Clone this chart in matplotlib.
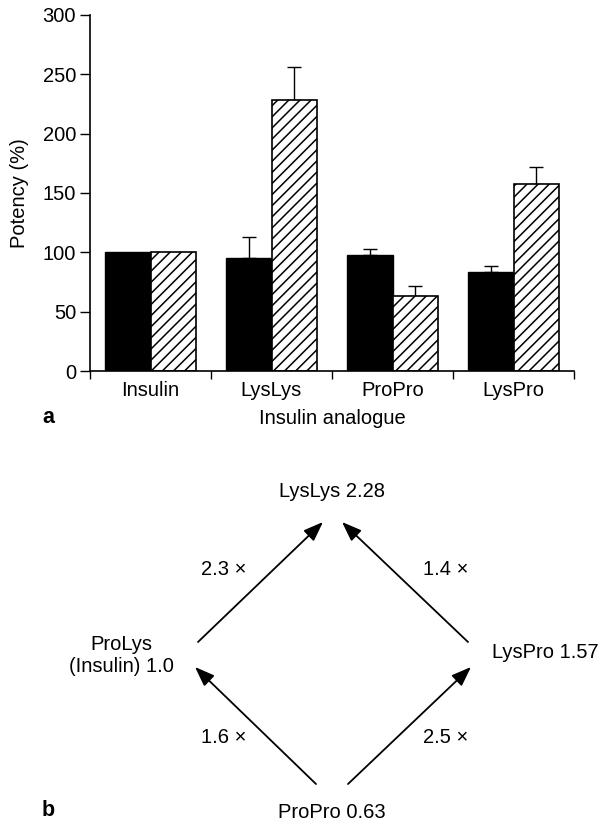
import matplotlib
matplotlib.use("Agg")
import matplotlib.pyplot as plt
import numpy as np

plt.rcParams['font.family'] = ['Liberation Sans', 'DejaVu Sans']
plt.rcParams['hatch.linewidth'] = 1.1

categories = ["Insulin", "LysLys", "ProPro", "LysPro"]
solid_vals = [100, 95, 97.5, 83.5]
solid_err = [0, 18, 5, 5]
hatch_vals = [100, 228.5, 63.5, 157.5]
hatch_err = [0, 28, 8, 14]
yticks = [0, 50, 100, 150, 200, 250, 300]

# panel b content
nodes = {
    "top": "LysLys 2.28",
    "left": "ProLys\n(Insulin) 1.0",
    "right": "LysPro 1.57",
    "bottom": "ProPro 0.63",
}
factors = ["2.3 \u00d7", "1.4 \u00d7", "1.6 \u00d7", "2.5 \u00d7"]

W, H = 607, 824
FS = 14.5
fig = plt.figure(figsize=(W / 100, H / 100), dpi=100)

# ---------- panel a ----------
ax_l, ax_r, ax_b, ax_t = 90, 574, 371, 15
ax = fig.add_axes([ax_l / W, 1 - ax_b / H, (ax_r - ax_l) / W, (ax_b - ax_t) / H])
x = np.arange(len(categories))
bw = 0.372
ax.bar(x - bw / 2, solid_vals, bw, color="black", edgecolor="black", linewidth=1.0, zorder=2)
ax.bar(x + bw / 2, hatch_vals, bw, color="white", edgecolor="black", linewidth=1.2,
       hatch="///", zorder=2)

def errs(xs, vals, e):
    idx = [i for i, v in enumerate(e) if v > 0]
    ax.errorbar(xs[idx], np.array(vals)[idx],
                yerr=[np.zeros(len(idx)), np.array(e)[idx]],
                fmt="none", ecolor="black", elinewidth=1.0, capsize=4.7, capthick=1.0, zorder=1)

errs(x - bw / 2, solid_vals, solid_err)
errs(x + bw / 2, hatch_vals, hatch_err)

ax.set_xlim(-0.5, len(categories) - 0.5)
ax.set_ylim(0, 300)
ax.set_yticks(yticks)
ax.set_xticks(x)
ax.set_xticklabels(categories)
ax.set_xticks(np.arange(-0.5, len(categories)), minor=True)
ax.tick_params(axis="x", which="major", length=0, pad=7, labelsize=FS)
ax.tick_params(axis="x", which="minor", length=6, width=1.0, direction="out")
ax.tick_params(axis="y", length=7, width=1.0, direction="out", labelsize=FS, pad=3)
for s in ["top", "right"]:
    ax.spines[s].set_visible(False)
for s in ["left", "bottom"]:
    ax.spines[s].set_linewidth(1.2)
ax.set_ylabel("Potency (%)", fontsize=FS, va="center")
ax.yaxis.set_label_coords((20 - ax_l) / (ax_r - ax_l), 0.5)
ax.set_xlabel("Insulin analogue", fontsize=FS, va="center")
ax.xaxis.set_label_coords(0.5, -(418 - ax_b) / (ax_b - ax_t))
fig.text(48 / W, 1 - 417 / H, "a", fontsize=FS + 1, fontweight="bold", ha="center", va="center")

# ---------- panel b ----------
bx = fig.add_axes([0, 0, 1, 1 - 430 / H])
bx.set_xlim(0, W)
bx.set_ylim(H, 430)
bx.axis("off")

bx.text(332, 492, nodes["top"], ha="center", va="center", fontsize=FS)
bx.text(121, 656, nodes["left"], ha="center", va="center", fontsize=FS, linespacing=1.2)
bx.text(492, 653, nodes["right"], ha="left", va="center", fontsize=FS)
bx.text(332, 813, nodes["bottom"], ha="center", va="center", fontsize=FS)

arrows = [((198, 642), (323, 522)),
          ((468, 642), (342, 522)),
          ((316, 784), (195, 667)),
          ((348, 784), (471, 667))]
for (x0, y0), (x1, y1) in arrows:
    bx.annotate("", xy=(x1, y1), xytext=(x0, y0),
                arrowprops=dict(arrowstyle="-|>,head_length=1.2,head_width=0.45",
                                color="black", lw=1.3, shrinkA=0, shrinkB=0))

fpos = [(246, 570), (468, 570), (246, 738), (468, 738)]
for (fx, fy), t in zip(fpos, factors):
    bx.text(fx, fy, t, ha="right", va="center", fontsize=FS)

fig.text(48 / W, 1 - 810 / H, "b", fontsize=FS + 1, fontweight="bold", ha="center", va="center")

fig.savefig("out.png", dpi=100)
